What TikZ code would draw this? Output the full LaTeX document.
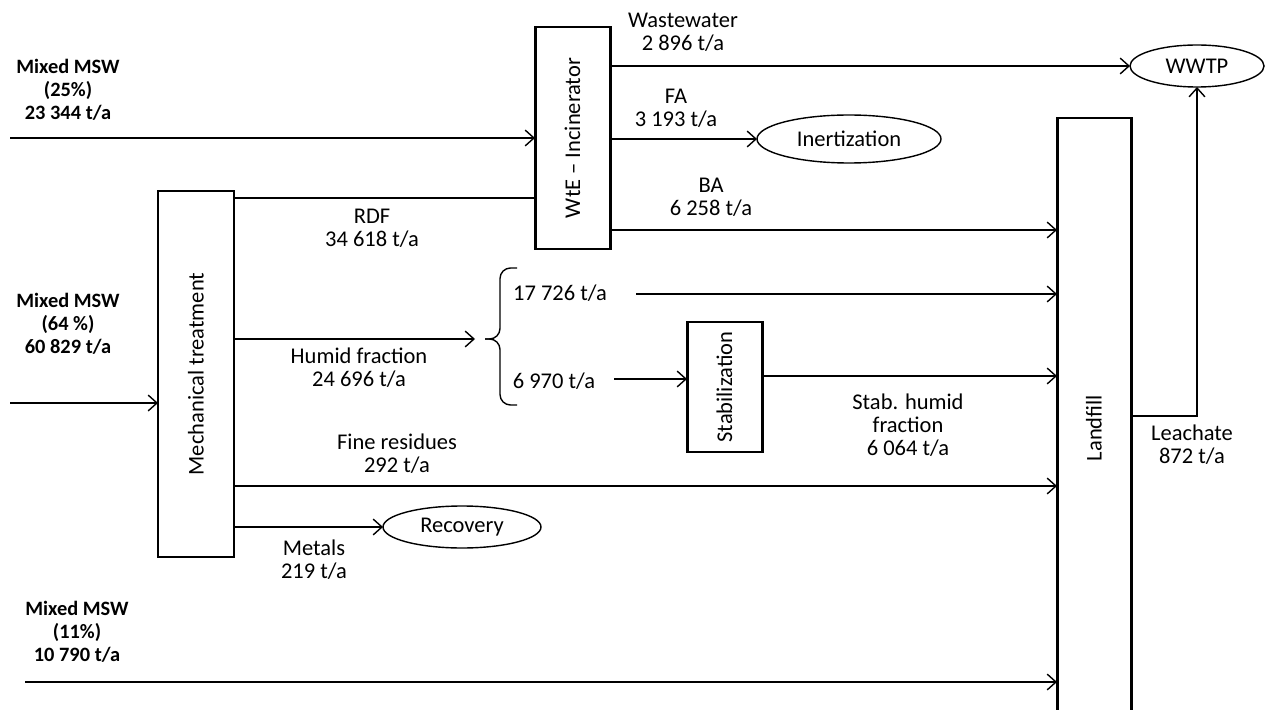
\documentclass[tikz,border=0pt]{standalone}
\usepackage{fontspec}
\setmainfont{Carlito}
\usetikzlibrary{arrows.meta,shapes.geometric}
\begin{document}
\begin{tikzpicture}[x=0.02cm,y=-0.02cm,
  font=\fontsize{12.8}{13}\selectfont,
  every node/.style={inner sep=0pt,outer sep=0pt},
  thinline/.style={line width=0.8pt},
  arr/.style={thinline,-{Straight Barb[length=5pt,width=9pt,line width=0.8pt]}},
  procbox/.style={draw,line width=1.7pt,rectangle,fill=white},
  oval/.style={draw,line width=0.8pt,ellipse},
  lbl/.style={align=center},
  blbl/.style={align=center,font=\fontsize{11.6}{13}\selectfont\bfseries}]
\useasboundingbox (0,0) rectangle (1266,709);
\clip (0,0) rectangle (1266,709);

% process boxes
\node[procbox,minimum width=75*0.02cm,minimum height=222*0.02cm] (wte) at (572.5,138) {\rotatebox{90}{WtE -- Incinerator}};
\node[procbox,minimum width=76*0.02cm,minimum height=366*0.02cm] (mech) at (196,374) {\rotatebox{90}{Mechanical treatment}};
\node[procbox,minimum width=75*0.02cm,minimum height=130*0.02cm] (stab) at (724.5,387) {\rotatebox{90}{Stabilization}};
\node[procbox,minimum width=74*0.02cm,minimum height=620*0.02cm] (landfill) at (1094,428) {\rotatebox{90}{Landfill}};

% ellipses
\node[oval,minimum width=134*0.02cm,minimum height=42*0.02cm] (wwtp) at (1197,66) {WWTP};
\node[oval,minimum width=184*0.02cm,minimum height=48*0.02cm] (inert) at (849,139) {Inertization};
\node[oval,minimum width=158*0.02cm,minimum height=42*0.02cm] (recov) at (462,527) {Recovery};

% row coordinates
\coordinate (in1) at (10,138);
\coordinate (in2) at (10,403);
\coordinate (in3) at (25,682);
\coordinate (yRDF) at (0,198);
\coordinate (yWW) at (0,66);
\coordinate (yFA) at (0,139);
\coordinate (yBA) at (0,230);
\coordinate (yHum) at (0,339);
\coordinate (bracetip) at (475,339);
\coordinate (s1start) at (636,294);
\coordinate (s2start) at (614,379);
\coordinate (yStab) at (0,376);
\coordinate (yFine) at (0,486);
\coordinate (yMet) at (0,527);
\coordinate (yLeach) at (0,416);

% input arrows
\draw[arr] (in1) -- (wte.west |- in1);
\draw[arr] (in2) -- (mech.west |- in2);
\draw[arr] (in3) -- (landfill.west |- in3);

% flows
\draw[thinline] (mech.east |- yRDF) -- (wte.west |- yRDF);
\draw[arr] (wte.east |- yWW) -- (wwtp.west);
\draw[arr] (wte.east |- yFA) -- (inert.west);
\draw[arr] (wte.east |- yBA) -- (landfill.west |- yBA);
\draw[arr] (mech.east |- yHum) -- (bracetip);
\draw[arr] (s1start) -- (landfill.west |- s1start);
\draw[arr] (s2start) -- (stab.west |- s2start);
\draw[arr] (stab.east |- yStab) -- (landfill.west |- yStab);
\draw[arr] (mech.east |- yFine) -- (landfill.west |- yFine);
\draw[arr] (mech.east |- yMet) -- (recov.west);
\draw[arr] (landfill.east |- yLeach) -| (wwtp.south);

% brace
\draw[thinline,rounded corners=6] (517,268) -- (500,268) -- (500,339) -- (485,339);
\draw[thinline,rounded corners=6] (485,339) -- (500,339) -- (500,405) -- (517,405);

% labels
\node[blbl] (l1) at (68,90) {Mixed MSW\\(25\%)\\23 344 t/a};
\node[blbl] (l2) at (68,324) {Mixed MSW\\(64 \%)\\60 829 t/a};
\node[blbl] (l3) at (77,632) {Mixed MSW\\(11\%)\\10 790 t/a};
\node[lbl] (lww) at (683,32) {Wastewater\\2 896 t/a};
\node[lbl] (lfa) at (676,108) {FA\\3 193 t/a};
\node[lbl] (lba) at (711,197) {BA\\6 258 t/a};
\node[lbl] (lrdf) at (372,228) {RDF\\34 618 t/a};
\node[lbl] (lhum) at (359,368) {Humid fraction\\24 696 t/a};
\node[lbl] (ls1) at (560,293) {17 726 t/a};
\node[lbl] (ls2) at (554,381) {6 970 t/a};
\node[lbl] (lstab) at (908,425) {Stab. humid\\fraction\\6 064 t/a};
\node[lbl] (lfine) at (397,454) {Fine residues\\292 t/a};
\node[lbl] (lmet) at (314,560) {Metals\\219 t/a};
\node[lbl] (lleach) at (1192,445) {Leachate\\872 t/a};
\end{tikzpicture}
\end{document}
